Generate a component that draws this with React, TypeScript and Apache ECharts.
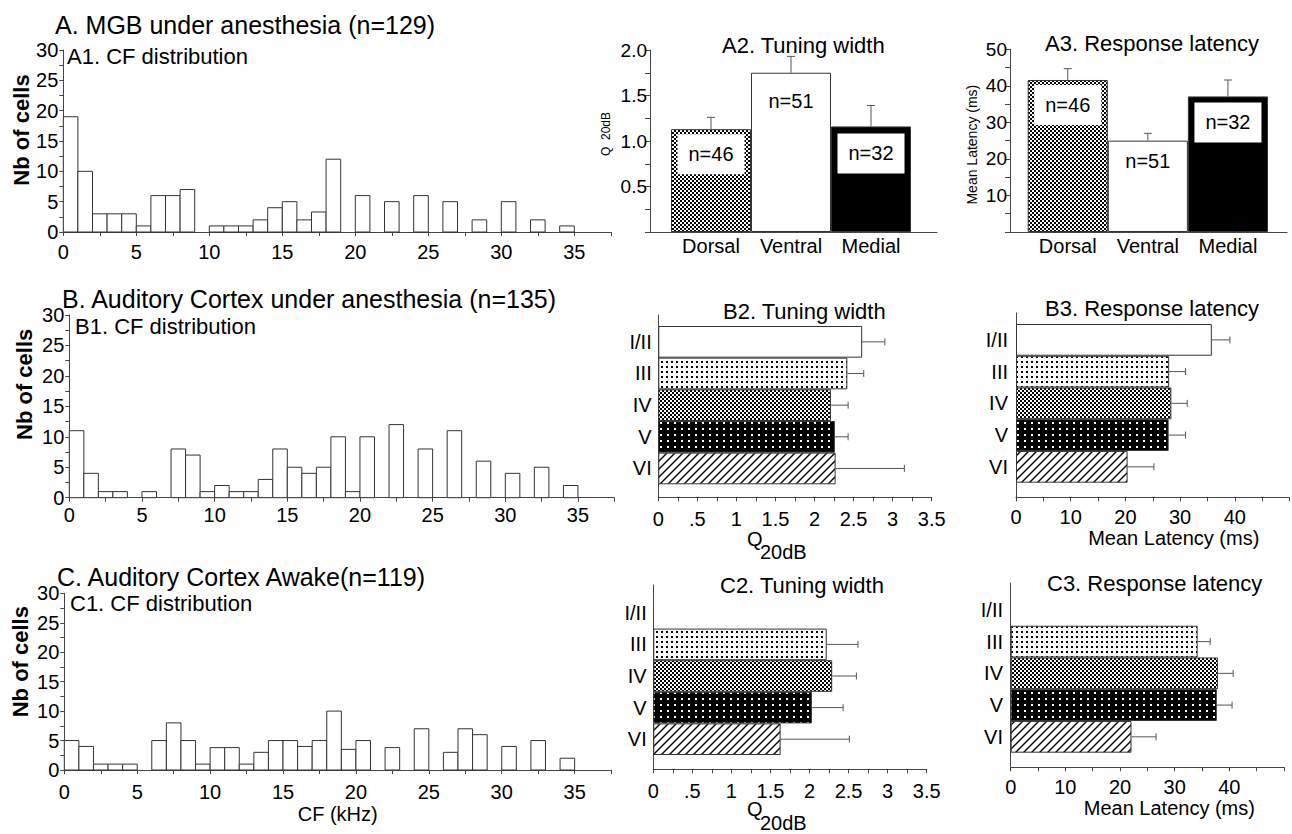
import React, { useEffect, useRef } from 'react';
import * as echarts from 'echarts';

const FONT = '"Liberation Sans", Arial, Helvetica, sans-serif';

// ---------- DATA ----------
// Histograms: number of cells per 1-kHz CF bin (bin i covers i..i+1 kHz)
const mgbCfCounts = [19, 10, 3, 3, 3, 1, 6, 6, 7, 0, 1, 1, 1, 2, 4, 5, 2, 3.3, 12, 0, 6, 0, 5, 0, 6, 0, 5, 0, 2, 0, 5, 0, 2, 0, 1];
const anesthCortexCfCounts = [11, 4, 1, 1, 0, 1, 0, 8, 7, 1, 2, 1, 1, 3, 8, 5, 4, 5, 10, 1, 10, 0, 12, 0, 8, 0, 11, 0, 6, 0, 4, 0, 5, 0, 2];
const awakeCortexCfCounts = [5, 4, 1, 1, 1, 0, 5, 8, 5, 1, 3.8, 3.8, 1, 3, 5, 5, 4, 5, 10, 3.5, 5, 0, 3.8, 0, 7, 0, 3, 7, 6, 0, 4, 0, 5, 0, 2];

// MGB nuclei
const mgbNuclei = ['Dorsal', 'Ventral', 'Medial'];
const mgbN = [46, 51, 32];
const mgbQ20 = [1.13, 1.75, 1.16];
const mgbQ20Upper = [1.26, 1.93, 1.39];
const mgbLatency = [41.6, 25.0, 37.1];
const mgbLatencyUpper = [44.7, 27.0, 41.6];

// Cortical layers
const layers = ['I/II', 'III', 'IV', 'V', 'VI'];
const anesthQ20 = [2.61, 2.42, 2.21, 2.26, 2.27];
const anesthQ20Upper = [2.9, 2.63, 2.43, 2.43, 3.15];
const anesthLatency = [35.8, 28.0, 28.4, 27.9, 20.4];
const anesthLatencyUpper = [39.1, 31.0, 31.3, 31.0, 25.2];
const awakeQ20 = [null, 2.22, 2.29, 2.03, 1.63];
const awakeQ20Upper = [null, 2.62, 2.6, 2.43, 2.51];
const awakeLatency = [null, 34.2, 37.9, 37.7, 22.1];
const awakeLatencyUpper = [null, 36.5, 40.7, 40.5, 26.6];

// Texts
const rowTitles = [
  'A. MGB under anesthesia (n=129)',
  'B. Auditory Cortex under anesthesia (n=135)',
  'C. Auditory Cortex Awake(n=119)',
];
const histTitles = ['A1. CF distribution', 'B1. CF distribution', 'C1. CF distribution'];
const panelTitles = [
  'A2. Tuning width', 'A3. Response latency',
  'B2. Tuning width', 'B3. Response latency',
  'C2. Tuning width', 'C3. Response latency',
];

// ---------- helpers ----------
const AX = '#444';
const isMult = (v: number, step: number) => Math.abs(v / step - Math.round(v / step)) < 1e-6;

function makeTile(w: number, h: number, draw: (ctx: CanvasRenderingContext2D) => void) {
  const c = document.createElement('canvas');
  c.width = w;
  c.height = h;
  const ctx = c.getContext('2d')!;
  draw(ctx);
  return { image: c, repeat: 'repeat', imageWidth: w, imageHeight: h };
}

function makePatterns() {
  return {
    white: '#ffffff',
    black: '#000000',
    checker: makeTile(4, 4, (ctx) => {
      ctx.fillStyle = '#fff'; ctx.fillRect(0, 0, 4, 4);
      ctx.fillStyle = '#000'; ctx.fillRect(0, 0, 2, 2); ctx.fillRect(2, 2, 2, 2);
    }),
    dots: makeTile(5, 5, (ctx) => {
      ctx.fillStyle = '#fff'; ctx.fillRect(0, 0, 5, 5);
      ctx.fillStyle = '#000'; ctx.fillRect(1, 1, 2, 2);
    }),
    blackdots: makeTile(7, 6, (ctx) => {
      ctx.fillStyle = '#000'; ctx.fillRect(0, 0, 7, 6);
      ctx.fillStyle = '#fff'; ctx.fillRect(2, 2, 2, 2);
    }),
    hatch: makeTile(8, 8, (ctx) => {
      ctx.fillStyle = '#fff'; ctx.fillRect(0, 0, 8, 8);
      ctx.strokeStyle = '#000'; ctx.lineWidth = 1.4;
      ctx.beginPath();
      ctx.moveTo(0, 8); ctx.lineTo(8, 0);
      ctx.moveTo(-2, 2); ctx.lineTo(2, -2);
      ctx.moveTo(6, 10); ctx.lineTo(10, 6);
      ctx.stroke();
    }),
  } as any;
}

function buildOption(P: any) {
  const grid: any[] = [];
  const xAxis: any[] = [];
  const yAxis: any[] = [];
  const series: any[] = [];
  const title: any[] = [];

  const addGrid = (r: number[]) => {
    grid.push({ left: r[0], top: r[1], width: r[2], height: r[3], containLabel: false, outerBoundsMode: 'none' });
    return grid.length - 1;
  };
  const lbl = (extra: any = {}) => ({ fontSize: 20, color: '#000', fontFamily: FONT, ...extra });
  const axLine = { show: true, onZero: false, lineStyle: { color: AX, width: 1 } };
  const tick = (len: number) => ({ show: true, length: len, lineStyle: { color: AX, width: 1 } });
  const off = { show: false };

  const addTitle = (text: string, left: number, top: number, size: number) =>
    title.push({ text, left, top, padding: 0, textStyle: { fontSize: size, fontWeight: 'normal', color: '#000', fontFamily: FONT } });

  // ----- histograms -----
  const hist = (counts: number[], r: number[], xMargin: number, nameGap: number, namePad: number, xName?: string) => {
    const g = addGrid(r);
    xAxis.push({
      gridIndex: g, type: 'value', min: 0, max: 37.5, interval: 2.5,
      axisLine: axLine, axisTick: tick(4), splitLine: off,
      axisLabel: lbl({ margin: xMargin, formatter: (v: number) => (isMult(v, 5) && v <= 35 ? String(v) : '') }),
      name: xName || '', nameLocation: 'middle', nameGap: 34, nameTextStyle: lbl(),
    });
    yAxis.push({
      gridIndex: g, type: 'value', min: 0, max: 30, interval: 2.5,
      axisLine: axLine, axisTick: tick(4), splitLine: off,
      axisLabel: lbl({ margin: 5, formatter: (v: number) => (isMult(v, 5) ? String(v) : '') }),
      name: 'Nb of cells', nameLocation: 'middle', nameRotate: 90, nameGap,
      nameTextStyle: lbl({ fontSize: 22, fontWeight: 'bold', padding: [0, 0, 0, namePad] }),
    });
    series.push({
      type: 'custom', xAxisIndex: xAxis.length - 1, yAxisIndex: yAxis.length - 1, silent: true,
      data: counts.map((c, i) => [i, i + 1, c]),
      encode: { x: [0, 1], y: 2 },
      renderItem: (_p: any, api: any) => {
        const h = api.value(2);
        if (!h) return null;
        const p0 = api.coord([api.value(0), h]);
        const p1 = api.coord([api.value(1), 0]);
        return {
          type: 'rect',
          shape: { x: p0[0], y: p0[1], width: p1[0] - p0[0], height: p1[1] - p0[1] },
          style: { fill: '#fff', stroke: '#333', lineWidth: 1 },
        };
      },
    });
  };

  hist(mgbCfCounts, [63.3, 50, 547.5, 182], 10, 31, 22);
  hist(anesthCortexCfCounts, [69.3, 315, 545, 182.7], 7, 34, 44);
  hist(awakeCortexCfCounts, [64.3, 593.3, 546.8, 176.7], 12, 33, 40, 'CF (kHz)');

  // ----- vertical bar panels (MGB) -----
  const vPanel = (
    frame: number[], barsLeft: number, barsWidth: number,
    yMax: number, yInterval: number, labelStep: number, labelDigits: number,
    values: number[], uppers: number[], fills: string[], distances: number[],
    yName: string, yNameGap: number, yNameSize: number, yNamePad: number[],
  ) => {
    const gf = addGrid(frame);
    xAxis.push({ gridIndex: gf, type: 'value', min: 0, max: 1, axisLine: axLine, axisTick: off, axisLabel: off, splitLine: off });
    yAxis.push({
      gridIndex: gf, type: 'value', min: 0, max: yMax, interval: yInterval,
      axisLine: axLine, axisTick: tick(5), splitLine: off,
      axisLabel: lbl({ fontSize: 19, margin: 3, formatter: (v: number) => (v > 0 && isMult(v, labelStep) ? v.toFixed(labelDigits) : '') }),
      name: yName, nameLocation: 'middle', nameRotate: 90, nameGap: yNameGap,
      nameTextStyle: lbl({ fontSize: yNameSize, padding: yNamePad }),
    });
    const gb = addGrid([barsLeft, frame[1], barsWidth, frame[3]]);
    xAxis.push({
      gridIndex: gb, type: 'category', data: mgbNuclei,
      axisLine: off, axisTick: off, splitLine: off, axisLabel: lbl({ margin: 4, interval: 0 }),
    });
    yAxis.push({ gridIndex: gb, type: 'value', min: 0, max: yMax, show: false });
    const xi = xAxis.length - 1;
    const yi = yAxis.length - 1;
    series.push({
      type: 'bar', xAxisIndex: xi, yAxisIndex: yi, barWidth: '100%', barCategoryGap: '0%', silent: true,
      data: values.map((v, i) => ({
        value: v,
        itemStyle: { color: P[fills[i]], borderColor: '#333', borderWidth: 1 },
        label: {
          show: true, position: 'insideTop', distance: distances[i],
          formatter: 'n=' + mgbN[i], fontSize: 20, color: '#000', fontFamily: FONT,
          backgroundColor: fills[i] === 'white' ? 'transparent' : '#fff', padding: [10, 11],
        },
      })),
    });
    series.push({
      type: 'custom', xAxisIndex: xi, yAxisIndex: yi, silent: true, z: 5,
      data: values.map((v, i) => [i, v, uppers[i]]),
      encode: { x: 0, y: [1, 2] },
      renderItem: (_p: any, api: any) => {
        const p0 = api.coord([api.value(0), api.value(1)]);
        const p1 = api.coord([api.value(0), api.value(2)]);
        const st = { stroke: '#555', lineWidth: 1 };
        return {
          type: 'group',
          children: [
            { type: 'line', shape: { x1: p0[0], y1: p0[1], x2: p1[0], y2: p1[1] }, style: st },
            { type: 'line', shape: { x1: p1[0] - 4, y1: p1[1], x2: p1[0] + 4, y2: p1[1] }, style: st },
          ],
        };
      },
    });
  };

  const mgbFills = ['checker', 'white', 'black'];
  vPanel([650, 50, 287, 182], 671, 240, 2, 0.25, 0.5, 1, mgbQ20, mgbQ20Upper, mgbFills, [5, 8, 7],
    'Q  20dB', 38, 12, [0, 0, 0, 14]);
  vPanel([1010, 49.3, 277, 182.7], 1027.7, 240.3, 50, 5, 10, 0, mgbLatency, mgbLatencyUpper, mgbFills, [5, 0, 6],
    'Mean Latency (ms)', 31, 14, [0, 8, 0, 0]);

  // ----- horizontal bar panels (layers) -----
  const layerFills = ['white', 'dots', 'checker', 'blackdots', 'hatch'];
  const hPanel = (
    frame: number[], barsTop: number, barsHeight: number,
    xMax: number, xInterval: number, labelStep: number, fmt: (v: number) => string,
    xMargin: number, catMargin: number,
    values: (number | null)[], uppers: (number | null)[],
    xName: string, xNameGap: number, xNamePad: number,
  ) => {
    const gf = addGrid(frame);
    xAxis.push({
      gridIndex: gf, type: 'value', min: 0, max: xMax, interval: xInterval,
      axisLine: axLine, axisTick: tick(4), splitLine: off,
      axisLabel: lbl({ margin: xMargin, formatter: (v: number) => (isMult(v, labelStep) ? fmt(v) : '') }),
      name: xName, nameLocation: 'middle', nameGap: xNameGap,
      nameTextStyle: lbl({ padding: [0, 0, 0, xNamePad] }),
    });
    yAxis.push({ gridIndex: gf, type: 'value', min: 0, max: 1, axisLine: axLine, axisTick: off, axisLabel: off, splitLine: off });
    const gb = addGrid([frame[0], barsTop, frame[2], barsHeight]);
    xAxis.push({ gridIndex: gb, type: 'value', min: 0, max: xMax, show: false });
    yAxis.push({
      gridIndex: gb, type: 'category', data: layers, inverse: true,
      axisLine: off, axisTick: off, splitLine: off, axisLabel: lbl({ margin: catMargin, interval: 0 }),
    });
    const xi = xAxis.length - 1;
    const yi = yAxis.length - 1;
    series.push({
      type: 'bar', xAxisIndex: xi, yAxisIndex: yi, barWidth: '100%', barCategoryGap: '0%', silent: true,
      data: values.map((v, i) => ({
        value: v,
        itemStyle: { color: P[layerFills[i]], borderColor: '#333', borderWidth: 1 },
      })),
    });
    series.push({
      type: 'custom', xAxisIndex: xi, yAxisIndex: yi, silent: true, z: 5,
      data: values.map((v, i) => [v, uppers[i], i]),
      encode: { x: [0, 1], y: 2 },
      renderItem: (_p: any, api: any) => {
        const v = api.value(0);
        const e = api.value(1);
        if (v == null || isNaN(v) || e == null || isNaN(e)) return null;
        const p0 = api.coord([v, api.value(2)]);
        const p1 = api.coord([e, api.value(2)]);
        const st = { stroke: '#555', lineWidth: 1 };
        return {
          type: 'group',
          children: [
            { type: 'line', shape: { x1: p0[0], y1: p0[1], x2: p1[0], y2: p1[1] }, style: st },
            { type: 'line', shape: { x1: p1[0], y1: p1[1] - 3.5, x2: p1[0], y2: p1[1] + 3.5 }, style: st },
          ],
        };
      },
    });
  };

  const qFmt = (v: number) => (v === 0 ? '0' : v < 1 ? '.5' : String(v));
  const msFmt = (v: number) => (v < 50 ? String(v) : '');

  hPanel([658.3, 315, 273.4, 182.3], 326, 158.3, 3.5, 0.25, 0.5, qFmt, 12, 6.6,
    anesthQ20, anesthQ20Upper, '', 0, 0);
  hPanel([1016, 313, 273.5, 184.3], 324, 158.7, 50, 5, 10, msFmt, 10, 8,
    anesthLatency, anesthLatencyUpper, 'Mean Latency (ms)', 27, 42);
  hPanel([653.3, 585, 273.4, 184.3], 597, 158, 3.5, 0.25, 0.5, qFmt, 11.5, 6.6,
    awakeQ20, awakeQ20Upper, '', 0, 0);
  hPanel([1010.7, 583, 273.3, 184.3], 594, 158.7, 50, 5, 10, msFmt, 10, 7.7,
    awakeLatency, awakeLatencyUpper, 'Mean Latency (ms)', 30, 44);

  // ----- titles -----
  addTitle(rowTitles[0], 55, 12, 25);
  addTitle(rowTitles[1], 62, 286, 25);
  addTitle(rowTitles[2], 57, 564, 25);
  addTitle(histTitles[0], 67, 45, 22);
  addTitle(histTitles[1], 75, 315, 22);
  addTitle(histTitles[2], 70, 592, 22);
  addTitle(panelTitles[0], 722, 34, 22);
  addTitle(panelTitles[1], 1045, 32, 22);
  addTitle(panelTitles[2], 723, 300, 22);
  addTitle(panelTitles[3], 1045, 297, 22);
  addTitle(panelTitles[4], 720, 574, 22);
  addTitle(panelTitles[5], 1047, 572, 22);
  // Q20dB axis titles for tuning-width panels
  addTitle('Q', 747, 529, 20);
  addTitle('20dB', 760, 542, 20);
  addTitle('Q', 747, 799, 20);
  addTitle('20dB', 760, 813, 20);

  return {
    animation: false,
    backgroundColor: '#ffffff',
    textStyle: { fontFamily: FONT },
    title,
    grid,
    xAxis,
    yAxis,
    series,
  };
}

export default function App() {
  const ref = useRef<HTMLDivElement>(null);
  useEffect(() => {
    document.body.style.margin = '0';
    const chart = echarts.init(ref.current!, null, { renderer: 'svg', width: 1292, height: 834 });
    chart.setOption(buildOption(makePatterns()) as any);
    return () => chart.dispose();
  }, []);
  return <div ref={ref} style={{ width: 1292, height: 834, background: '#fff' }} />;
}
